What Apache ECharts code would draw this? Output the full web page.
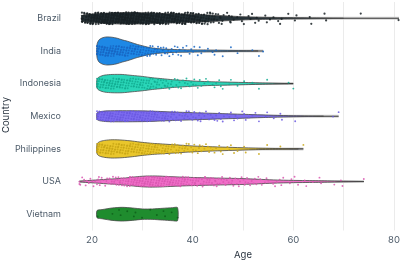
<!DOCTYPE html>
<html>
<head>
<meta charset="utf-8">
<script src="https://cdn.jsdelivr.net/npm/echarts@6/dist/echarts.min.js"></script>
<style>html,body{margin:0;padding:0;background:#fff}#c{width:415px;height:260px}</style>
</head>
<body>
<div id="c"></div>
<script>
const countries = ['Brazil','India','Indonesia','Mexico','Philippines','USA','Vietnam'];
const xTicks = [20, 40, 60, 80];

// min / max age per country
const ageRanges = [[18,81],[21,54],[21,60],[21,69],[21,62],[17.5,74],[21,37]];

// number of observations per one-year age bin, starting at countStarts
const countStarts = [18, 21, 21, 21, 21, 17, 21];
const brazilCounts = [10,16,22,26,28,29,30,30,30,30,29,28,27,26,25,24,23,22,21,20,19,18,16,14,12,11,9,5,4,3,3,2,2,2,2,2,1,2,1,2,1,1,1,1,0,1,1,0,1,1,0,0,0,0,0,1,0,0,0,0,0,0,0,1];
const indiaCounts = [14,18,18,17,16,14,12,11,10,9,8,7,6,5,5,4,4,3,3,3,2,2,1,2,1,1,0,1,1,0,0,1,1,1];
const indonesiaCounts = [10,12,12,12,12,11,10,9,8,8,7,6,6,5,5,4,4,3,3,3,3,2,2,2,2,2,1,1,1,1,0,1,1,0,1,0,0,0,1,1];
const mexicoCounts = [8,10,10,10,10,10,10,9,9,9,8,8,7,7,6,6,5,5,5,4,4,4,3,3,3,3,2,2,2,2,2,2,1,1,1,1,1,1,0,1,0,0,0,0,0,0,0,1,1];
const philippinesCounts = [10,12,12,12,12,11,11,10,10,9,9,8,8,7,7,6,6,5,5,4,4,3,3,3,2,2,2,2,1,1,1,0,1,0,1,0,1,0,0,0,0,1];
const usaCounts = [2,3,3,3,4,4,5,6,7,8,9,10,11,12,12,12,11,10,10,9,8,8,7,7,6,6,6,5,5,5,4,4,4,4,3,3,3,2,2,2,2,2,1,2,1,1,1,1,1,1,0,1,1,1,0,0,0,1];
const vietnamCounts = [1,0,0,1,1,1,1,1,1,1,0,1,1,1,1,1,1];
const countsByCountry = [brazilCounts, indiaCounts, indonesiaCounts, mexicoCounts, philippinesCounts, usaCounts, vietnamCounts];

// violin half-width profiles: [age, half-width as share of category band]
const brazilViolin = [[18,0.08],[20,0.13],[23,0.16],[27,0.18],[30,0.17],[34,0.15],[38,0.13],[42,0.11],[46,0.08],[50,0.05],[55,0.03],[60,0.02],[66,0.01],[70,0]];
const indiaViolin = [[21,0.2],[21.4,0.34],[22.2,0.41],[23,0.43],[24,0.42],[25,0.39],[26,0.34],[27,0.3],[28,0.25],[29,0.2],[30,0.16],[31,0.12],[32,0.09],[34,0.06],[37,0.04],[41,0.03],[46,0.02],[50,0.01],[53,0]];
const indonesiaViolin = [[21,0.14],[21.5,0.21],[22.5,0.26],[24,0.28],[26,0.28],[28,0.25],[30,0.22],[32,0.18],[34,0.15],[36,0.12],[38,0.1],[40,0.08],[43,0.06],[46,0.05],[50,0.035],[55,0.015],[59,0]];
const mexicoViolin = [[21,0.1],[21.6,0.14],[23,0.165],[26,0.17],[30,0.165],[33,0.15],[36,0.13],[40,0.11],[44,0.09],[48,0.07],[52,0.05],[56,0.03],[60,0.015],[66,0]];
const philippinesViolin = [[21,0.15],[21.5,0.22],[22.5,0.26],[24,0.28],[26,0.27],[28,0.24],[30,0.2],[32,0.17],[34,0.15],[37,0.12],[40,0.09],[44,0.065],[48,0.045],[52,0.025],[57,0.01],[61,0]];
const usaViolin = [[17.5,0.01],[20,0.04],[23,0.07],[26,0.1],[29,0.15],[31,0.17],[33,0.17],[35,0.155],[38,0.135],[41,0.12],[44,0.11],[47,0.1],[50,0.09],[53,0.07],[56,0.05],[60,0.035],[65,0.025],[70,0.01],[74,0]];
const vietnamViolin = [[21,0.11],[22,0.14],[24,0.19],[26,0.21],[28,0.19],[30,0.16],[32,0.16],[34,0.18],[36,0.2],[37,0.2]];
const violins = [brazilViolin, indiaViolin, indonesiaViolin, mexicoViolin, philippinesViolin, usaViolin, vietnamViolin];

const fillColors = ['#263238','#1e88e5','#2ad6b8','#7d6cf0','#e9c62c','#f06ec8','#1f8c2e'];
const pointColors = ['#1a2226','#1766c4','#12ab90','#6a58e0','#c9a715','#d957b0','#0e5f1a'];
const jitterAmp = [0.18,0.16,0.16,0.16,0.16,0.15,0.14];

const pts = [];
countsByCountry.forEach((counts, ci) => {
  const start = countStarts[ci], lo = ageRanges[ci][0], hi = ageRanges[ci][1];
  counts.forEach((n, j) => {
    const age = start + j;
    for (let k = 0; k < n; k++) {
      const fx = ((k + 1) * 0.6180339887 + j * 0.3141) % 1;
      const fy = ((k + 1) * 0.7548776662 + j * 0.5698) % 1;
      let x = age + fx - 0.5;
      x = Math.max(lo, Math.min(hi, x));
      pts.push([x, ci, fy * 2 - 1]);
    }
  });
});

const chart = echarts.init(document.getElementById('c'), null, {renderer: 'canvas'});
const fontFamily = 'Inter, "Noto Sans", sans-serif';
chart.setOption({
  animation: false,
  grid: {left: 92, right: 21, top: 2, bottom: 29.5, containLabel: false, outerBoundsMode: 'none'},
  graphic: [{
    type: 'text', x: 6, y: 115, rotation: Math.PI / 2,
    style: {text: 'Country', fill: '#2a3440', font: '9.5px ' + fontFamily, align: 'center', verticalAlign: 'middle'}
  }],
  xAxis: {
    type: 'value', min: 20, max: 80, interval: 10,
    name: 'Age', nameLocation: 'middle', nameGap: 17,
    nameTextStyle: {color: '#2a3440', fontSize: 9.5, fontFamily},
    axisLine: {show: false}, axisTick: {show: false},
    splitLine: {show: true, lineStyle: {color: '#ebebeb', width: 1}},
    axisLabel: {color: '#4c5a68', fontSize: 9.5, fontFamily, margin: 5,
      formatter: v => xTicks.indexOf(v) >= 0 ? String(v) : ''}
  },
  yAxis: {
    type: 'category', data: countries, inverse: true,
    axisLine: {show: false}, axisTick: {show: false}, splitLine: {show: false},
    axisLabel: {color: '#4c5a68', fontSize: 9, fontFamily, margin: 31}
  },
  series: [
    {
      type: 'custom', z: 1, clip: false,
      data: ageRanges.map((r, i) => [r[0], i, r[1]]),
      encode: {x: 0, y: 1},
      renderItem: (params, api) => {
        const ci = params.dataIndex;
        const a = api.coord([api.value(0), ci]);
        const b = api.coord([api.value(2), ci]);
        return {type: 'group', children: [
          {type: 'line', shape: {x1: a[0], y1: a[1], x2: b[0], y2: b[1]}, style: {stroke: '#d4d4d4', lineWidth: 3}},
          {type: 'line', shape: {x1: a[0], y1: a[1], x2: b[0], y2: b[1]}, style: {stroke: '#3c3c3c', lineWidth: 1.1}}
        ]};
      }
    },
    {
      type: 'custom', z: 2, clip: false,
      data: ageRanges.map((r, i) => [r[0], i]),
      encode: {x: 0, y: 1},
      renderItem: (params, api) => {
        const ci = params.dataIndex;
        const band = api.size([0, 1])[1];
        const top = [], bot = [];
        violins[ci].forEach(([a, w]) => {
          const p = api.coord([a, ci]);
          top.push([p[0], p[1] - w * band]);
          bot.push([p[0], p[1] + w * band]);
        });
        return {type: 'polygon', shape: {points: top.concat(bot.reverse()), smooth: 0.25},
          style: {fill: fillColors[ci], stroke: '#4a4a4a', lineWidth: 0.8}};
      }
    },
    {
      type: 'custom', z: 3, clip: false,
      data: pts,
      encode: {x: 0, y: 1},
      renderItem: (params, api) => {
        const ci = api.value(1);
        const band = api.size([0, 1])[1];
        const p = api.coord([api.value(0), ci]);
        return {type: 'circle', shape: {cx: p[0], cy: p[1] + api.value(2) * jitterAmp[ci] * band, r: ci === 0 ? 1.1 : 0.95},
          style: {fill: pointColors[ci], opacity: 0.85}};
      }
    }
  ]
});
</script>
</body>
</html>
